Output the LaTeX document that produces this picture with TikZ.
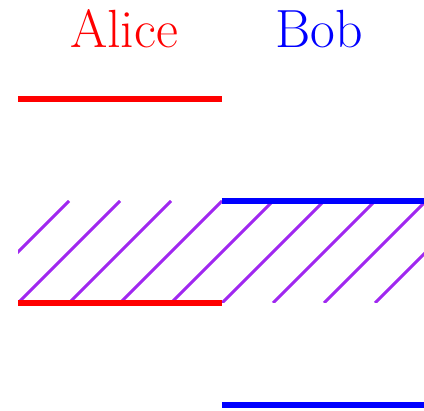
\documentclass[tikz,border=0pt]{standalone}
\definecolor{hatchpurple}{RGB}{160,40,240}
\tikzset{
  alicestroke/.style={red, line width=3pt},
  bobstroke/.style={blue, line width=3pt},
  hatchstroke/.style={hatchpurple, line width=1.6pt},
  namelabel/.style={anchor=base, font=\fontsize{30}{36}\selectfont, inner sep=0pt}
}
\begin{document}
\begin{tikzpicture}[x=1cm,y=1cm]
\useasboundingbox (-0.353,-2.118) rectangle (7.961,5.941);
\node[namelabel, text=red] (alice) at (2.08,5) {Alice};
\node[namelabel, text=blue] (bob) at (5.9,5) {Bob};
\coordinate (a1) at (0,4); \coordinate (a2) at (4,4);
\coordinate (a3) at (0,0); \coordinate (a4) at (4,0);
\coordinate (b1) at (4,2); \coordinate (b2) at (8,2);
\coordinate (b3) at (4,-2); \coordinate (b4) at (8,-2);
\begin{scope}
  \clip (0,0) rectangle (8,2);
  \foreach \k in {-1,...,7} {
    \draw[hatchstroke] (\k,0) -- (\k+2,2);
  }
\end{scope}
\draw[alicestroke] (a1) -- (a2);
\draw[alicestroke] (a3) -- (a4);
\draw[bobstroke] (b1) -- (b2);
\draw[bobstroke] (b3) -- (b4);
\end{tikzpicture}
\end{document}
